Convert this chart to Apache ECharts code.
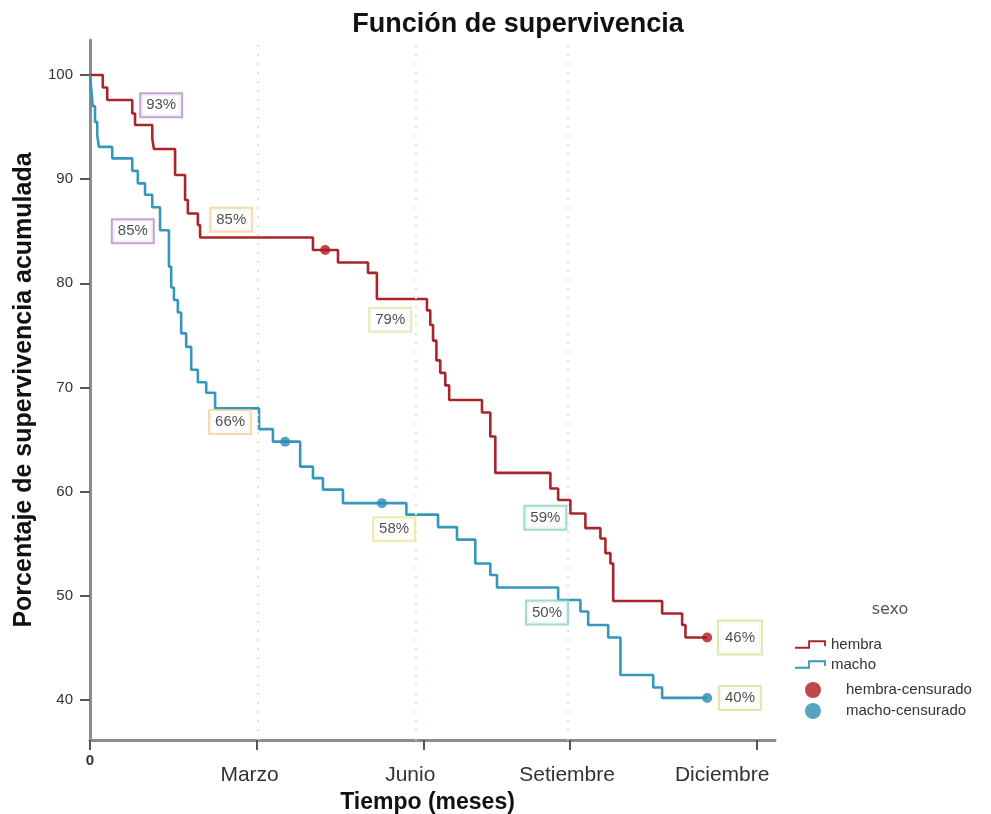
<!DOCTYPE html>
<html>
<head>
<meta charset="utf-8">
<script src="https://cdn.jsdelivr.net/npm/echarts@6/dist/echarts.min.js"></script>
<style>
html,body{margin:0;padding:0;background:#fff;}
#chart{width:991px;height:814px;}
</style>
</head>
<body>
<div id="chart"></div>
<script>
// ---- data ----
const hembraT = [0,0.23,0.31,0.76,0.81,1.12,1.15,1.53,1.71,1.76,1.94,1.98,4.01,4.46,5.00,5.16,6.06,6.12,6.17,6.23,6.30,6.39,6.46,7.05,7.20,7.29,8.28,8.42,8.64,8.91,9.18,9.27,9.36,9.41,10.29,10.65,10.71,11.10];
const hembraS = [100,98.8,97.6,96.3,95.2,93.9,92.9,90.4,88.0,86.7,85.6,84.4,83.2,82.0,81.0,78.5,77.4,76.0,74.5,72.6,71.4,70.2,68.8,67.6,65.3,61.8,60.3,59.2,57.9,56.5,55.5,54.1,53.1,49.5,48.3,47.2,46.0,46.0];
const machoT = [0,0.02,0.05,0.09,0.13,0.16,0.40,0.76,0.86,0.99,1.12,1.26,1.42,1.46,1.51,1.58,1.64,1.73,1.82,1.94,2.09,2.25,3.04,3.29,3.78,4.01,4.19,4.55,5.69,6.26,6.60,6.93,7.20,7.32,8.42,8.82,8.96,9.32,9.54,10.13,10.29,11.10];
const machoS = [100,98.8,97.0,95.5,94.2,93.1,92.0,90.8,89.6,88.5,87.3,85.1,81.6,79.6,78.4,77.2,75.2,73.9,71.7,70.5,69.5,68.0,66.0,64.8,62.4,61.3,60.2,58.9,57.8,56.6,55.4,53.1,52.0,50.8,49.6,48.5,47.2,46.0,42.4,41.2,40.2,40.2];
const hembraCensT = [4.23, 11.10];
const hembraCensS = [83.2, 46.0];
const machoCensT = [3.51, 5.25, 11.10];
const machoCensS = [64.8, 58.9, 40.2];

const annText = ['93%','85%','85%','79%','66%','58%','59%','50%','46%','40%'];
const annX = [1.28,2.54,0.77,5.40,2.52,5.47,8.19,8.22,11.69,11.69];
const annY = [97.1,86.1,85.0,76.5,66.7,56.4,57.5,48.4,46.0,40.2];
const annBorder = ['#b48ec6','#f1cf9f','#b48ec6','#dde5a6','#f1cf9f','#e9e79a','#8dcfc3','#8dcfc3','#d6e29c','#d6e29c'];

const yTicks = [40,50,60,70,80,90,100];
const xTickVals = [0,3,6,8.63,12];
const xLabelVals = [0,2.87,5.76,8.58,11.37];
const xLabelText = ['0','Marzo','Junio','Setiembre','Diciembre'];
const refLinesX = [3.02,5.85,8.6];

const seriesNames = ['hembra','macho','hembra-censurado','macho-censurado'];
// ---- chart ----
const RED = '#a8262a', BLUE = '#3598bb', RED_DOT = '#b3161b', BLUE_DOT = '#2a8db3';
const zip = (a,b) => a.map((v,i)=>[v,b[i]]);
const stepIcon = 'path://M0,7 L14,7 L14,0 L33,0 L33,6 L31,6 L31,2 L16,2 L16,9 L0,9 Z';
const FONT = 'Liberation Sans';

const chart = echarts.init(document.getElementById('chart'));
chart.setOption({
  animation:false,
  backgroundColor:'#fff',
  textStyle:{fontFamily:FONT},
  title:[
    {text:'Función de supervivencia', left:513, top:6, textAlign:'center',
     textStyle:{fontFamily:FONT,fontSize:27,fontWeight:'bold',color:'#111'}},
    {text:'sexo', left:885, top:597, textAlign:'center',
     textStyle:{fontFamily:'DejaVu Sans',fontSize:16,fontWeight:'normal',color:'#555'}}
  ],
  grid:{left:90,right:216,top:40,bottom:74,outerBoundsMode:'none',containLabel:false},
  xAxis:{
    type:'value', min:0, max:12.32,
    name:'Tiempo (meses)', nameLocation:'middle', nameGap:50,
    nameTextStyle:{fontFamily:FONT,fontSize:23,fontWeight:'bold',color:'#111',padding:[0,10,0,0]},
    axisLine:{show:true,lineStyle:{color:'#8c8c8c',width:3}},
    axisTick:{show:true,customValues:xTickVals,length:10,lineStyle:{color:'#555',width:2}},
    axisLabel:{customValues:xLabelVals, margin:13,
      formatter:function(v){
        const i = xLabelVals.findIndex(x=>Math.abs(x-v)<1e-6);
        const t = i>=0 ? xLabelText[i] : '';
        return i===0 ? '{z|'+t+'}' : '{m|'+t+'}';
      },
      rich:{z:{fontFamily:FONT,fontSize:15,fontWeight:'bold',color:'#333'},
            m:{fontFamily:FONT,fontSize:21,color:'#333',padding:[12,0,0,0]}}},
    splitLine:{show:false}
  },
  yAxis:{
    type:'value', min:36.16, max:103.36,
    name:'Porcentaje de supervivencia acumulada', nameLocation:'middle', nameGap:53,
    nameTextStyle:{fontFamily:FONT,fontSize:25,fontWeight:'bold',color:'#111'},
    axisLine:{show:true,lineStyle:{color:'#8c8c8c',width:3}},
    axisTick:{show:true,customValues:yTicks,length:10,lineStyle:{color:'#555',width:2}},
    axisLabel:{customValues:yTicks,margin:17,fontFamily:FONT,fontSize:15,color:'#333'},
    splitLine:{show:false}
  },
  legend:[
    {data:seriesNames.slice(0,2), orient:'vertical', left:790, top:632,
     itemWidth:31, itemHeight:10, itemGap:5, icon:stepIcon,
     textStyle:{fontFamily:FONT,fontSize:15,color:'#333'}},
    {data:seriesNames.slice(2), orient:'vertical', left:800, top:677,
     itemWidth:16, itemHeight:16, itemGap:5, icon:'circle',
     textStyle:{fontFamily:FONT,fontSize:15,color:'#333',padding:[0,0,0,20]}}
  ],
  series:[
    {type:'scatter', data:[], silent:true, z:1,
     markLine:{silent:true, symbol:'none', label:{show:false},
       lineStyle:{type:[2,7],color:'#ece3bd',width:2},
       data:refLinesX.map(v=>({xAxis:v}))}},
    {name:seriesNames[0], type:'line', step:'end', symbol:'none', z:3,
     color:RED, lineStyle:{color:RED,width:2.6}, data:zip(hembraT,hembraS)},
    {name:seriesNames[1], type:'line', step:'end', symbol:'none', z:3,
     color:BLUE, lineStyle:{color:BLUE,width:2.6}, data:zip(machoT,machoS)},
    {name:seriesNames[2], type:'scatter', symbol:'circle', symbolSize:10, z:4,
     itemStyle:{color:RED_DOT}, data:zip(hembraCensT,hembraCensS)},
    {name:seriesNames[3], type:'scatter', symbol:'circle', symbolSize:10, z:4,
     itemStyle:{color:BLUE_DOT}, data:zip(machoCensT,machoCensS)},
    {type:'scatter', silent:true, symbolSize:1, z:5, itemStyle:{color:'rgba(0,0,0,0)'},
     label:{show:true, position:'inside', formatter:'{b}', fontFamily:FONT, fontSize:15, color:'#1e1e1e',
       backgroundColor:'#fff', borderWidth:2, padding:[4,5,3,5]},
     data:annText.map((t,i)=>({name:t, value:[annX[i],annY[i]],
       label:{borderColor:annBorder[i], padding: (t==='46%') ? [9,6,8,6] : [4,5,3,5]}}))}
  ]
});
</script>
</body>
</html>
